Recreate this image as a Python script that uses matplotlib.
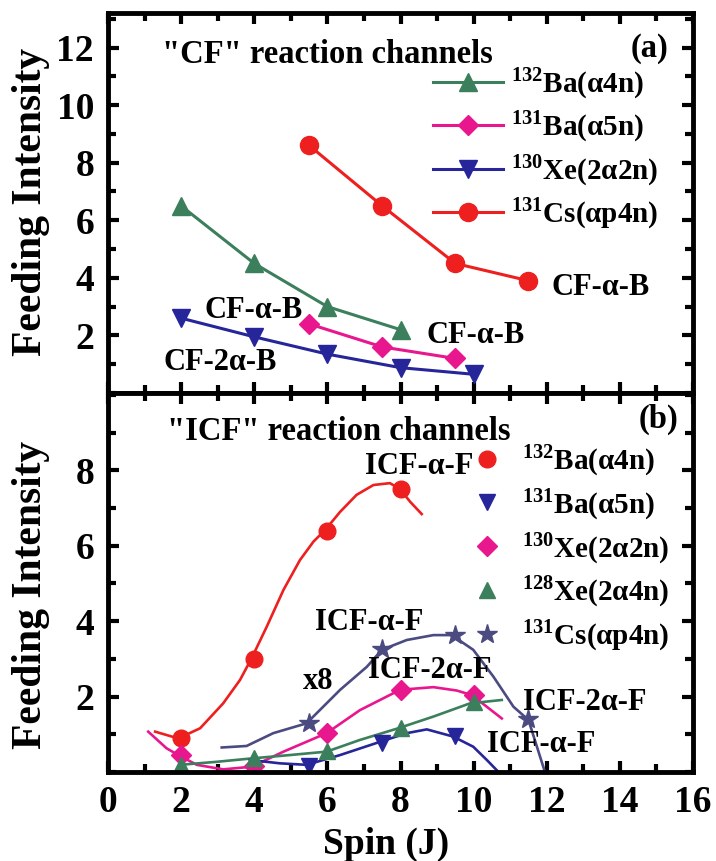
import numpy as np
import matplotlib
matplotlib.use("Agg")
import matplotlib.pyplot as plt
from matplotlib.ticker import MultipleLocator

plt.rcParams['font.family'] = ['Liberation Serif', 'DejaVu Serif']
plt.rcParams['font.weight'] = 'bold'
plt.rcParams['axes.labelweight'] = 'bold'
plt.rcParams['mathtext.fontset'] = 'custom'
plt.rcParams['mathtext.rm'] = 'Liberation Serif'
plt.rcParams['mathtext.bf'] = 'Liberation Serif:bold'

# colours
RED = '#ee1f1f'
GREEN = '#3c7f5c'
MAGENTA = '#e8178e'
BLUE = '#26269a'
SLATE = '#4b4b82'

# ---- panel (a): "CF" channels ----
cf_ba132_x = [2, 4, 6, 8]
cf_ba132_y = [6.5, 4.5, 3.0, 2.2]
cf_ba131_x = [5.5, 7.5, 9.5]
cf_ba131_y = [2.4, 1.6, 1.2]
cf_xe130_x = [2, 4, 6, 8, 10]
cf_xe130_y = [2.6, 1.95, 1.35, 0.88, 0.65]
cf_cs131_x = [5.5, 7.5, 9.5, 11.5]
cf_cs131_y = [8.6, 6.5, 4.5, 3.9]

# ---- panel (b): "ICF" channels, measured points ----
icf_ba132_x = [2, 4, 6, 8]
icf_ba132_y = [0.9, 3.0, 6.4, 7.5]
icf_ba131_x = [5.5, 7.5, 9.5]
icf_ba131_y = [0.17, 0.78, 0.95]
icf_xe130_x = [2, 4, 6, 8, 10]
icf_xe130_y = [0.45, 0.15, 1.03, 2.18, 2.03]
icf_xe128_x = [2, 4, 6, 8, 10]
icf_xe128_y = [0.18, 0.38, 0.55, 1.18, 1.85]
icf_cs131_x = [5.5, 7.5, 9.5, 11.5]
icf_cs131_y = [1.3, 3.25, 3.63, 1.4]

# fitted curves
fit_ba132_x = [1.29, 1.92, 2.52, 3.15, 3.61, 3.93, 4.34, 4.8, 5.25, 5.62, 5.94,
               6.35, 6.8, 7.26, 7.71, 7.99, 8.26, 8.58]
fit_ba132_y = [1.07, 0.89, 1.16, 1.82, 2.44, 3.02, 3.85, 4.83, 5.62, 6.11, 6.42,
               6.9, 7.35, 7.61, 7.66, 7.5, 7.17, 6.84]
fit_xe130_x = [1.1, 1.6, 1.92, 2.43, 3.15, 3.93, 4.8, 5.98, 6.89, 7.99, 8.9,
               9.54, 9.95, 10.36, 10.77]
fit_xe130_y = [1.07, 0.63, 0.45, 0.19, 0.07, 0.14, 0.54, 1.03, 1.64, 2.18, 2.25,
               2.16, 2.04, 1.73, 1.42]
fit_xe128_x = [1.97, 2.97, 3.93, 4.98, 5.98, 6.89, 7.94, 8.9, 9.9, 10.77]
fit_xe128_y = [0.19, 0.27, 0.36, 0.45, 0.54, 0.85, 1.16, 1.47, 1.82, 1.91]
fit_ba131_x = [3.88, 4.7, 5.43, 6.35, 7.44, 8.17, 8.72, 9.44, 9.99, 10.36, 10.68]
fit_ba131_y = [0.32, 0.23, 0.19, 0.45, 0.8, 1.03, 1.13, 0.94, 0.67, 0.32, 0.0]
fit_cs131_x = [3.11, 3.79, 4.52, 5.43, 6.35, 7.08, 7.49, 8.17, 8.9, 9.4, 9.99,
               10.54, 11.09, 11.5, 11.95]
fit_cs131_y = [0.65, 0.69, 1.03, 1.29, 2.18, 2.79, 3.24, 3.5, 3.63, 3.63, 3.24,
               2.53, 1.73, 1.38, 0.0]

labels_cf = [r'$^{132}$Ba(α4n)', r'$^{131}$Ba(α5n)', r'$^{130}$Xe(2α2n)', r'$^{131}$Cs(αp4n)']
labels_icf = [r'$^{132}$Ba(α4n)', r'$^{131}$Ba(α5n)', r'$^{130}$Xe(2α2n)',
              r'$^{128}$Xe(2α4n)', r'$^{131}$Cs(αp4n)']

W, H = 716, 861
fig = plt.figure(figsize=(W / 100, H / 100), dpi=100)
left, width = 108 / W, 585 / W
ax1 = fig.add_axes([left, 1 - 393 / H, width, 380 / H])
ax2 = fig.add_axes([left, 1 - 772 / H, width, 379 / H])

TXT = 22     # annotations
HEAD = 23.5  # panel headings
LEG = 21


def style_axis(ax, yticks, ylim, show_x):
    ax.set_xlim(0, 16)
    ax.set_ylim(*ylim)
    xt = list(range(0, 17, 2))
    ax.set_xticks(xt, [str(v) for v in xt], fontweight='bold')
    ax.set_yticks(yticks, [str(v) for v in yticks], fontweight='bold')
    ax.xaxis.set_minor_locator(MultipleLocator(1))
    ax.yaxis.set_minor_locator(MultipleLocator(1))
    ax.tick_params(which='both', direction='in', top=True, right=True, width=3)
    ax.tick_params(which='major', length=8, labelsize=27)
    ax.tick_params(which='minor', length=6)
    ax.tick_params(axis='x', pad=9, labelbottom=show_x)
    ax.tick_params(axis='y', pad=10)
    for s in ax.spines.values():
        s.set_linewidth(3.5)
    ax.set_ylabel('Feeding Intensity', fontsize=30)


# panel (a)
lw = 2.2
ax1.plot(cf_ba132_x, cf_ba132_y, '-^', color=GREEN, lw=lw, ms=13, label=labels_cf[0])
ax1.plot(cf_ba131_x, cf_ba131_y, '-D', color=MAGENTA, lw=lw, ms=10, label=labels_cf[1])
ax1.plot(cf_xe130_x, cf_xe130_y, '-v', color=BLUE, lw=lw, ms=13, label=labels_cf[2])
ax1.plot(cf_cs131_x, cf_cs131_y, '-o', color=RED, lw=lw, ms=13, label=labels_cf[3])
style_axis(ax1, [2, 4, 6, 8, 10, 12], (0, 13.2), False)
ax1.yaxis.set_label_coords(-0.099, 0.503)

ax1.text(1.48, 11.76, '"CF" reaction channels', fontsize=HEAD, va='center')
ax1.text(15.34, 11.96, '(a)', fontsize=HEAD, va='center', ha='right')
ax1.text(12.12, 3.67, 'CF-α-B', fontsize=TXT, va='center')
ax1.text(2.63, 2.87, 'CF-α-B', fontsize=TXT, va='center')
ax1.text(8.7, 2.0, 'CF-α-B', fontsize=TXT, va='center')
ax1.text(1.53, 1.06, 'CF-2α-B', fontsize=TXT, va='center')

ax1.legend(loc='upper left', bbox_to_anchor=(0.555, 0.862), frameon=False,
           fontsize=LEG, handlelength=2.4, handletextpad=0.3, labelspacing=0.27,
           borderpad=0, borderaxespad=0)

# panel (b)
lw2 = 1.9
ax2.plot(fit_ba132_x, fit_ba132_y, '-', color=RED, lw=lw2)
ax2.plot(fit_xe130_x, fit_xe130_y, '-', color=MAGENTA, lw=lw2)
ax2.plot(fit_xe128_x, fit_xe128_y, '-', color=GREEN, lw=lw2)
ax2.plot(fit_ba131_x, fit_ba131_y, '-', color=BLUE, lw=lw2)
ax2.plot(fit_cs131_x, fit_cs131_y, '-', color=SLATE, lw=lw2)

ax2.plot(icf_ba132_x, icf_ba132_y, 'o', color=RED, ms=12, ls='none', label=labels_icf[0])
ax2.plot(icf_ba131_x, icf_ba131_y, 'v', color=BLUE, ms=12, ls='none', label=labels_icf[1])
ax2.plot(icf_xe130_x, icf_xe130_y, 'D', color=MAGENTA, ms=10, ls='none', label=labels_icf[2])
ax2.plot(icf_xe128_x, icf_xe128_y, '^', color=GREEN, ms=12, ls='none', label=labels_icf[3])
ax2.plot(icf_cs131_x, icf_cs131_y, '*', color=SLATE, ms=15, ls='none', label=labels_icf[4])
style_axis(ax2, [2, 4, 6, 8], (0, 10.05), True)
ax2.yaxis.set_label_coords(-0.099, 0.467)
ax2.set_xlabel('Spin (J)', fontsize=27, va='baseline')
ax2.xaxis.set_label_coords(0.475, -0.216)

ax2.text(1.61, 9.02, '"ICF" reaction channels', fontsize=HEAD, va='center')
ax2.text(15.6, 9.34, '(b)', fontsize=HEAD, va='center', ha='right')
ax2.text(7.03, 8.1, 'ICF-α-F', fontsize=TXT, va='center')
ax2.text(5.66, 3.96, 'ICF-α-F', fontsize=TXT, va='center')
ax2.text(5.34, 2.4, 'x8', fontsize=TXT, va='center')
ax2.text(7.12, 2.7, 'ICF-2α-F', fontsize=TXT, va='center')
ax2.text(11.36, 1.83, 'ICF-2α-F', fontsize=TXT, va='center')
ax2.text(10.36, 0.72, 'ICF-α-F', fontsize=TXT, va='center')

ax2.legend(loc='upper left', bbox_to_anchor=(0.625, 0.87), frameon=False,
           fontsize=LEG, handlelength=0.9, handletextpad=0.75, labelspacing=0.285,
           borderpad=0, borderaxespad=0)

fig.savefig('out.png', dpi=100)
